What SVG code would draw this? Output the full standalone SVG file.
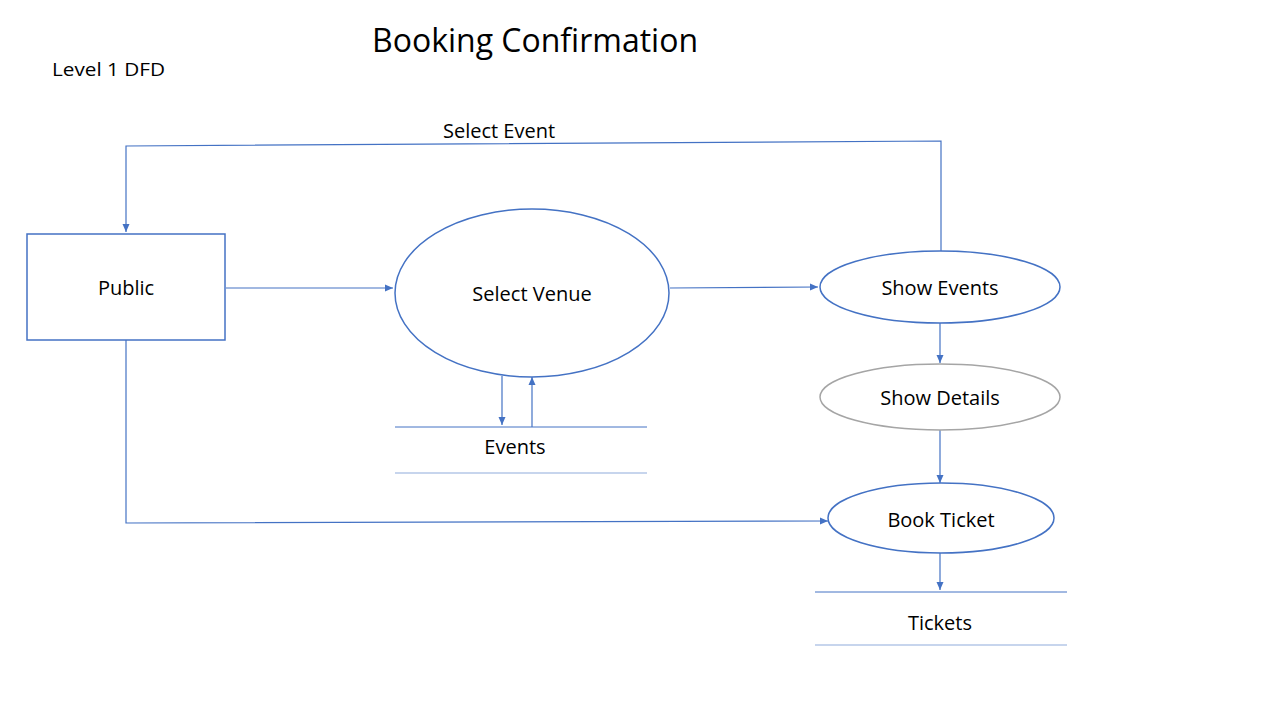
<svg xmlns="http://www.w3.org/2000/svg" width="1280" height="720" viewBox="0 0 1280 720">
<style>
  text { font-family: "Open Sans", "Liberation Sans", sans-serif; fill: #000; }
  .lbl { font-size: 20px; text-anchor: middle; }
  .node { fill: #fff; stroke: #4472C4; stroke-width: 1.5; }
  .gray { fill: #fff; stroke: #A5A5A5; stroke-width: 1.5; }
  .flow { fill: none; stroke: #4472C4; stroke-width: 1.2; marker-end: url(#arr); }
  .store1 { stroke: #4472C4; stroke-width: 1; }
  .store2 { stroke: #B4C7E7; stroke-width: 1.5; }
</style>
<defs>
  <marker id="arr" markerWidth="10" markerHeight="10" refX="9" refY="5" orient="auto" markerUnits="userSpaceOnUse">
    <path d="M1,1.5 L9,5 L1,8.5 Z" fill="#4472C4"/>
  </marker>
</defs>
<rect width="1280" height="720" fill="#fff"/>
<text id="title" x="535" y="52" style="font-size:32px" text-anchor="middle">Booking Confirmation</text>
<text id="level" x="52" y="76" style="font-size:19px" textLength="113" lengthAdjust="spacingAndGlyphs">Level 1 DFD</text>

<g id="connectors">
  <polyline class="flow" points="941,251 941,141 126,146 126,232"/>
  <line class="flow" x1="226" y1="288" x2="393" y2="288"/>
  <line class="flow" x1="670" y1="288" x2="818" y2="287"/>
  <line class="flow" x1="940" y1="323" x2="940" y2="363"/>
  <line class="flow" x1="940" y1="430" x2="940" y2="483"/>
  <line class="flow" x1="940" y1="553" x2="940" y2="590"/>
  <polyline class="flow" points="126,340 126,523 828,521"/>
  <line class="flow" x1="502" y1="376" x2="502" y2="425"/>
  <line class="flow" x1="532" y1="427" x2="532" y2="377"/>
  <text class="lbl" x="499" y="138">Select Event</text>
</g>

<g id="public">
  <rect class="node" x="27" y="234" width="198" height="106"/>
  <text class="lbl" x="126" y="295">Public</text>
</g>
<g id="select-venue">
  <ellipse class="node" cx="532" cy="293" rx="137" ry="84"/>
  <text class="lbl" x="532" y="301">Select Venue</text>
</g>
<g id="show-events">
  <ellipse class="node" cx="940" cy="287" rx="120" ry="36"/>
  <text class="lbl" x="940" y="295">Show Events</text>
</g>
<g id="show-details">
  <ellipse class="gray" cx="940" cy="397" rx="120" ry="33"/>
  <text class="lbl" x="940" y="405">Show Details</text>
</g>
<g id="book-ticket">
  <ellipse class="node" cx="941" cy="518" rx="113" ry="35"/>
  <text class="lbl" x="941" y="527">Book Ticket</text>
</g>
<g id="events-store">
  <line class="store1" x1="395" y1="427" x2="647" y2="427"/>
  <line class="store2" x1="395" y1="473" x2="647" y2="473"/>
  <text class="lbl" x="515" y="454">Events</text>
</g>
<g id="tickets-store">
  <line class="store1" x1="815" y1="592" x2="1067" y2="592"/>
  <line class="store2" x1="815" y1="645" x2="1067" y2="645"/>
  <text class="lbl" x="940" y="630">Tickets</text>
</g>
</svg>
